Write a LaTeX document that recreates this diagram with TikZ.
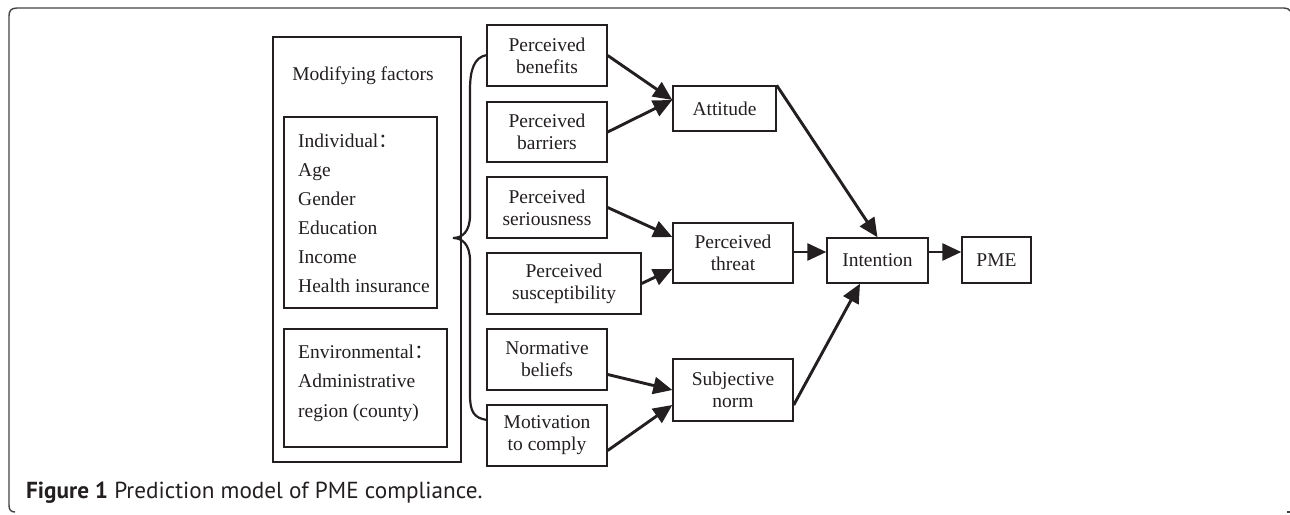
\documentclass[tikz,border=0pt]{standalone}
\usepackage{fontspec}
\setmainfont{Liberation Serif}
\newfontfamily\capfont{PT Sans}
\newfontfamily\cjk{Noto Sans CJK SC}
\usetikzlibrary{arrows.meta,calc}
\definecolor{ink}{HTML}{231F20}

\begin{document}
\begin{tikzpicture}[x=1pt,y=-1pt,
  every node/.style={text=ink},
  box/.style={draw=ink,line width=1.4pt,inner sep=0pt,align=center,
    font=\fontsize{19.5}{22}\selectfont},
  lbl/.style={inner sep=0pt,anchor=base west,font=\fontsize{19.5}{22}\selectfont},
  link/.style={draw=ink,line width=2.9pt,-{Triangle[length=19pt,width=17pt]}},
  frame/.style={draw=ink!85,line width=1.4pt},
  brace/.style={draw=ink,line width=2.2pt}]

\useasboundingbox (0,0) rectangle (1290,514);

% page frame
\draw[frame] (15,512) .. controls (11,512) and (9,510) .. (9,505) -- (9,16)
  .. controls (9,11) and (11,8) .. (17,8) -- (1284,8)
  .. controls (1287,8) and (1289,9) .. (1290,11);
\draw[frame] (1287,512) -- (1290,512);

% modifying factors
\node[box,minimum width=188pt,minimum height=425pt] (outer) at (367,249.5) {};
\node[lbl,anchor=base] (mf) at (363,80) {Modifying factors};
\node[box,minimum width=153pt,minimum height=191pt] (indiv) at (360.5,212.5) {};
\node[lbl] (i1) at (298,147) {Individual{\cjk ：}};
\node[lbl] (i2) at (298,176) {Age};
\node[lbl] (i3) at (298,205) {Gender};
\node[lbl] (i4) at (298,234) {Education};
\node[lbl] (i5) at (298,263) {Income};
\node[lbl] (i6) at (298,292) {Health insurance};
\node[box,minimum width=163pt,minimum height=118pt] (env) at (365.5,388) {};
\node[lbl] (e1) at (298,358) {Environmental{\cjk ：}};
\node[lbl] (e2) at (298,387) {Administrative};
\node[lbl] (e3) at (298,417) {region (county)};

% brace
\draw[brace] (487,55) .. controls (474,57) and (470,70) .. (470,90) -- (470,215)
  .. controls (470,232) and (462,238) .. (453,238)
  .. controls (462,238) and (470,244) .. (470,261) -- (470,395)
  .. controls (470,412) and (474,418) .. (487,420);

% perceptions
\node[box,minimum width=120pt,minimum height=61pt] (ben) at (547,55.5) {Perceived\\benefits};
\node[box,minimum width=120pt,minimum height=60pt] (bar) at (547,132) {Perceived\\barriers};
\node[box,minimum width=120pt,minimum height=61pt] (ser) at (547,207.5) {Perceived\\seriousness};
\node[box,minimum width=154pt,minimum height=61pt] (sus) at (564,283.5) {Perceived\\susceptibility};
\node[box,minimum width=120pt,minimum height=61pt] (nor) at (547,359.5) {Normative\\beliefs};
\node[box,minimum width=120pt,minimum height=61pt] (mot) at (547,435.5) {Motivation\\to comply};

% constructs
\node[box,minimum width=103pt,minimum height=45pt] (att) at (724.5,108.5) {Attitude};
\node[box,minimum width=120pt,minimum height=60pt] (thr) at (733,253) {Perceived\\threat};
\node[box,minimum width=120pt,minimum height=62pt] (sub) at (733,390) {Subjective\\norm};
\node[box,minimum width=101pt,minimum height=45pt] (int) at (877.5,260.5) {Intention};
\node[box,minimum width=69pt,minimum height=46pt] (pme) at (996.5,260) {PME};

% paths
\draw[link] (ben.east) -- ($(att.west)+(0,-8.5)$);
\draw[link] (bar.east) -- ($(att.west)+(0,-8.5)$);
\draw[link] (ser.east) -- ($(thr.west)+(0,-16)$);
\draw[link] (sus.east) -- ($(thr.west)+(0,16)$);
\draw[link] ($(nor.east)+(0,15)$) -- (sub.west);
\draw[link] ($(mot.east)+(0,15)$) -- ($(sub.west)+(0,15)$);
\draw[link] (att.north east) -- (int.north);
\draw[link] ($(thr.east)+(0,-1)$) -- ($(int.west)+(0,-8.5)$);
\draw[link] ($(sub.east)+(0,15)$) -- ($(int.south)+(-17.5,0)$);
\draw[link] ($(int.east)+(0,-8.5)$) -- ($(pme.west)+(0,-8)$);

% caption
\node[inner sep=0pt,anchor=base west,font=\capfont\fontsize{23.2}{25}\selectfont] (cap)
  at (26,498) {\textbf{Figure 1} Prediction model of PME compliance.};
\end{tikzpicture}
\end{document}
